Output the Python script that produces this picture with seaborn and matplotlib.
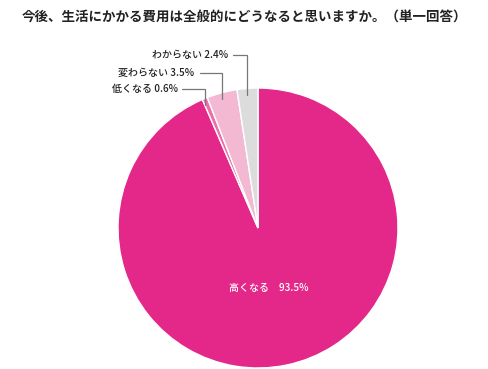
import numpy as np
import matplotlib
matplotlib.use("Agg")
import matplotlib.pyplot as plt
import seaborn as sns

labels = ["高くなる", "低くなる", "変わらない", "わからない"]
values = [93.5, 0.6, 3.5, 2.4]
colors = ["#E4288A", "#EC6FA9", "#F3B9D3", "#DCDCDC"]
title = "今後、生活にかかる費用は全般的にどうなると思いますか。（単一回答）"

sns.set_theme(style="white")
plt.rcParams["font.family"] = ["Noto Sans CJK JP", "DejaVu Sans"]

W, H = 488, 369
fig = plt.figure(figsize=(W / 100, H / 100), dpi=100)
cx, cy, r = 258, 228, 140
ax = fig.add_axes([(cx - r) / W, 1 - (cy + r) / H, 2 * r / W, 2 * r / H])

wedges, _ = ax.pie(values, colors=colors, startangle=90, counterclock=False,
                   wedgeprops=dict(edgecolor="white", linewidth=1.0))
ax.set_xlim(-1, 1)
ax.set_ylim(-1, 1)
ax.set_aspect("equal")
ax.axis("off")

fig.text(0.5, 1 - 17 / H, title, ha="center", va="center",
         fontsize=9.7, fontweight="bold", color="#222222")

# big slice label
ax.text(0.08, -0.43, f"{labels[0]}　{values[0]}%", ha="center", va="center",
        fontsize=7.2, color="white", fontweight="medium")

# leader lines for small slices (heights of the elbow in axes units)
elbow_y = {1: 0.99, 2: 1.11, 3: 1.235}
elbow_dx = {1: 0.16, 2: 0.16, 3: 0.105}
for i in (1, 2, 3):
    w = wedges[i]
    mid = np.deg2rad((w.theta1 + w.theta2) / 2)
    x0, y0 = np.cos(mid), np.sin(mid) * 0.95
    ey = elbow_y[i]
    xs = x0 - elbow_dx[i]
    ax.plot([x0, x0, xs], [y0, ey, ey], color="#777777", lw=0.9,
            clip_on=False, solid_joinstyle="miter")
    ax.text(xs - 0.035, ey, f"{labels[i]} {values[i]}%", ha="right", va="center",
            fontsize=7.2, color="#222222", fontweight="medium")

fig.savefig("out.png", dpi=100)
